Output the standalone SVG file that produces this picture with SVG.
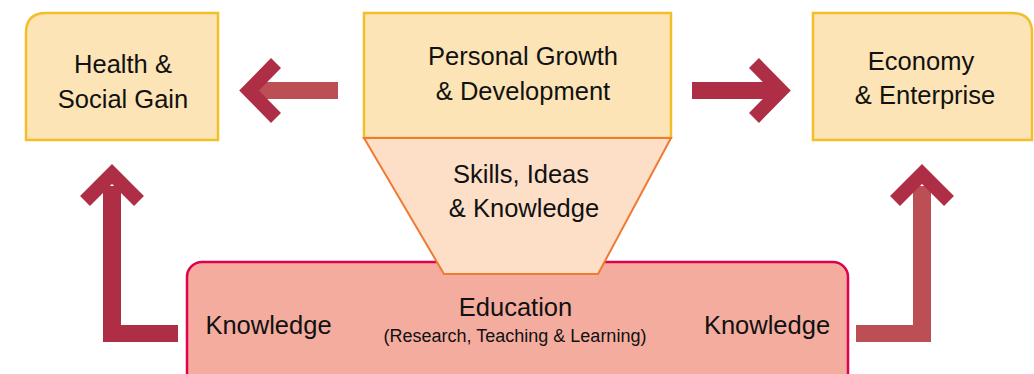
<svg xmlns="http://www.w3.org/2000/svg" width="1034" height="374" viewBox="0 0 1034 374">
<style>
.box{fill:#FCE4B6;stroke:#F2BE2A;stroke-width:2.5}
.funnel{fill:#FDDFC8;stroke:#EE7A33;stroke-width:2}
.edu{fill:#F4AC9F;stroke:#E0004D;stroke-width:2.5}
text{font-family:"Liberation Sans",Arial,sans-serif;fill:#111;text-anchor:middle;font-size:25.5px}
.sub{font-size:18px}
.dark{fill:#AE2E46}
.light{fill:#BC4F55}
.chev{fill:none;stroke:#AE2E46;stroke-width:14;stroke-linejoin:miter;stroke-miterlimit:10}
</style>
<rect width="1034" height="374" fill="#fff"/>
<g id="connectors">
  <!-- top left arrow -->
  <rect class="light" x="258" y="82" width="80" height="17"/>
  <polyline class="chev" points="276,63 249,90.5 276,118"/>
  <!-- top right arrow -->
  <rect class="dark" x="692" y="82" width="80" height="17"/>
  <polyline class="chev" points="754,63 781,90.5 754,118"/>
  <!-- left knowledge arrow -->
  <path class="dark" d="M103,186 H121 V325 H178 V342 H103 Z"/>
  <polyline class="chev" points="85,201 112,174 139,201"/>
  <!-- right knowledge arrow -->
  <path class="light" d="M913,186 H931 V342 H856 V325 H913 Z"/>
  <polyline class="chev" points="895,201 922,174 949,201"/>
</g>
<g id="health">
  <path class="box" d="M46,13 H218 V140 H26 V33 Q26,13 46,13 Z"/>
  <text x="123" y="73">Health &amp;</text>
  <text x="123" y="108">Social Gain</text>
</g>
<g id="economy">
  <path class="box" d="M813,13 H1012 Q1032,13 1032,33 V140 H813 Z"/>
  <text x="921" y="70">Economy</text>
  <text x="925" y="104">&amp; Enterprise</text>
</g>
<g id="education">
  <rect class="edu" x="187" y="262" width="661" height="140" rx="15" ry="15"/>
  <text x="515.5" y="316">Education</text>
  <text class="sub" x="515" y="342">(Research, Teaching &amp; Learning)</text>
  <text x="268.5" y="334">Knowledge</text>
  <text x="767" y="334">Knowledge</text>
</g>
<g id="personal">
  <rect class="box" x="364" y="13" width="307" height="125"/>
  <text x="523" y="65">Personal Growth</text>
  <text x="523" y="100">&amp; Development</text>
</g>
<g id="skills">
  <path class="funnel" d="M364,138 H671 L598,274 H444 Z"/>
  <text x="521" y="183">Skills, Ideas</text>
  <text x="524" y="217">&amp; Knowledge</text>
</g>
</svg>
